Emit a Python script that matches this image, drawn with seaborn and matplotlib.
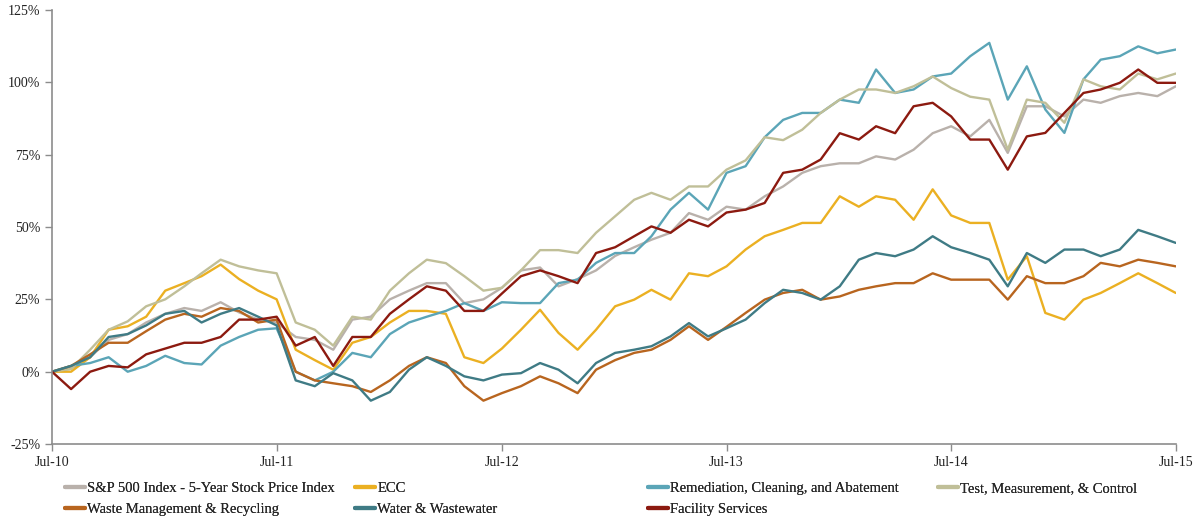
import numpy as np
import pandas as pd
import matplotlib
matplotlib.use("Agg")
import matplotlib.pyplot as plt
import matplotlib.dates as mdates
from matplotlib.lines import Line2D
from matplotlib.ticker import FuncFormatter
import seaborn as sns

# monthly readings, Jul-10 .. Jul-15 (cumulative return, %)
dates = pd.date_range("2010-07-01", "2015-07-01", freq="MS")

sp500 = [0, 1, 5, 11, 13, 17, 20, 22, 21, 24, 20.5, 18, 17,
         12, 11, 7.6, 18, 19, 25, 28, 30.6, 30.6, 23.7, 25, 29,
         35, 36, 29.5, 32, 35, 40, 43, 45.6, 48, 54.8, 52.5, 57,
         56, 60.6, 64, 68.7, 71, 72, 72, 74.4, 73.3, 76.7, 82.4, 84.8,
         81.3, 87, 75.6, 91.7, 91.7, 88.2, 94, 92.9, 95.2, 96.3, 95.2, 98.6]
ecc = [0, 0, 5, 14.5, 15.7, 19, 28, 30.6, 33, 37, 32, 28, 25,
       7.6, 4, 0.7, 10, 12, 17, 21, 21, 20, 5, 3, 8,
       14.5, 21.4, 13.4, 7.6, 14.5, 22.6, 24.9, 28.3, 24.9, 34, 33, 36.4,
       42.2, 46.8, 49, 51.4, 51.4, 60.6, 57, 60.6, 59.4, 52.5, 63, 54,
       51.4, 51.4, 31.8, 39.9, 20.3, 18, 24.9, 27.2, 30.6, 34, 30.6, 27.2]
remediation = [0, 2, 3, 5, 0, 2, 5.5, 3, 2.5, 9, 12, 14.5, 15,
               0, -3, 0, 6.5, 5, 13, 17, 19, 21, 23.7, 21, 24,
               23.7, 23.7, 30.6, 31.8, 37.6, 41, 41, 46.8, 56, 61.8, 56, 68.7,
               71, 81, 87, 89.4, 89.4, 94, 92.9, 104.4, 96.3, 97.5, 102, 103,
               109, 113.6, 94, 105.5, 90.6, 82.5, 101, 107.8, 109, 112.4, 110, 111.3]
test_measure = [0, 1, 7.6, 14.5, 17.4, 22.6, 25, 29.5, 34, 38.7, 36.4, 35, 34,
                17, 14.5, 9, 19, 18, 28, 34, 38.7, 37.5, 33, 28, 29,
                35, 42, 42, 41, 48, 53.7, 59.4, 61.8, 59.4, 64, 64, 69.8,
                73, 81, 80, 83.6, 89.4, 94, 97.5, 97.5, 96.3, 98.6, 102, 98,
                95, 94, 76.7, 94, 92.9, 86, 101, 98.6, 97.5, 103, 101, 103]
waste = [0, 2, 6, 10, 10, 14, 18, 20, 19, 22, 21, 17, 18,
         0, -3, -4, -5, -7, -3, 2, 5, 3, -5, -10, -7.4,
         -5, -1.6, -4, -7.4, 0.7, 4, 6.5, 7.6, 11, 15.7, 11, 15.5,
         20.3, 24.9, 27.2, 28.3, 24.9, 26, 28.3, 29.5, 30.6, 30.6, 34, 31.8,
         31.8, 31.8, 24.9, 33, 30.6, 30.6, 33, 37.6, 36.4, 38.7, 37.6, 36.4]
water = [0, 2, 5, 12, 13, 16, 20, 21, 17, 20, 22, 19, 16,
         -3, -5, -0.5, -3, -10, -7, 0.7, 5, 2, -1.6, -3, -1,
         -0.5, 3, 0.7, -4, 3, 6.5, 7.6, 8.8, 12.2, 16.8, 12.2, 15,
         18, 23.7, 28.3, 27.2, 24.9, 29.5, 38.7, 41, 39.9, 42.2, 46.8, 43,
         41, 38.7, 29.5, 41, 37.6, 42.2, 42.2, 39.9, 42.2, 49, 46.8, 44.5]
facility = [0, -6, 0, 2, 1.5, 6, 8, 10, 10, 12, 18, 18, 19,
            9, 12, 2, 12, 12, 20, 25, 29.5, 28, 21, 21, 27,
            33, 35, 33, 30.6, 41, 43, 46.8, 50.2, 48, 52.5, 50.2, 55,
            56, 58.3, 68.7, 69.8, 73.3, 82.4, 80.2, 84.8, 82.4, 91.7, 92.9, 88.2,
            80.2, 80.2, 69.8, 81.3, 82.5, 89.4, 96.3, 97.5, 99.8, 104.4, 99.8, 99.8]

names = ["S&P 500 Index - 5-Year Stock Price Index", "ECC",
         "Remediation, Cleaning, and Abatement", "Test, Measurement, & Control",
         "Waste Management & Recycling", "Water & Wastewater", "Facility Services"]
colors = ["#B9B1AB", "#EBB022", "#5BA5B7", "#C0BF98",
          "#B8651F", "#3F7B85", "#8C1A10"]

wide = pd.DataFrame({"date": dates,
                     names[0]: sp500, names[1]: ecc, names[2]: remediation,
                     names[3]: test_measure, names[4]: waste,
                     names[5]: water, names[6]: facility})
df = wide.melt(id_vars="date", var_name="series", value_name="pct")

sns.set_style("white")
plt.rcParams["font.family"] = ["Liberation Serif", "DejaVu Serif"]

fig = plt.figure(figsize=(12.01, 5.2), dpi=100)
ax = fig.add_axes([0.0433, 0.146, 0.9357, 0.835])

sns.lineplot(data=df, x="date", y="pct", hue="series", hue_order=names,
             palette=dict(zip(names, colors)), linewidth=1.7, legend=False, ax=ax)

ax.set_xlim(pd.Timestamp("2010-07-01"), pd.Timestamp("2015-07-01"))
ax.set_ylim(-25, 125)
ax.set_yticks(np.arange(-25, 126, 25))
ax.yaxis.set_major_formatter(FuncFormatter(lambda v, p: f"{v:.0f}%"))
ax.xaxis.set_major_locator(mdates.MonthLocator(bymonth=7))
ax.xaxis.set_major_formatter(mdates.DateFormatter("%b-%y"))
ax.set_xlabel("")
ax.set_ylabel("")
for s in ["top", "right"]:
    ax.spines[s].set_visible(False)
for s in ["left", "bottom"]:
    ax.spines[s].set_color("#8C8C8C")
    ax.spines[s].set_linewidth(1.2)
ax.tick_params(axis="both", direction="out", length=5, width=1, color="#8C8C8C",
               labelsize=10, labelcolor="#222222", left=True, bottom=True)
ax.grid(False)

handles = [Line2D([0], [0], color=c, lw=3) for c in colors]
groups = [([0, 4], 0.054), ([1, 5], 0.296), ([2, 6], 0.5395), ([3], 0.781)]
for idx, xpos in groups:
    leg = fig.legend([handles[i] for i in idx], [names[i] for i in idx],
                     loc="upper left", bbox_to_anchor=(xpos, 0.073),
                     frameon=False, fontsize=10.5, handlelength=1.35,
                     handletextpad=0.15, labelspacing=0.5, borderpad=0,
                     borderaxespad=0)
    fig.add_artist(leg)

fig.savefig("out.png", dpi=100)
